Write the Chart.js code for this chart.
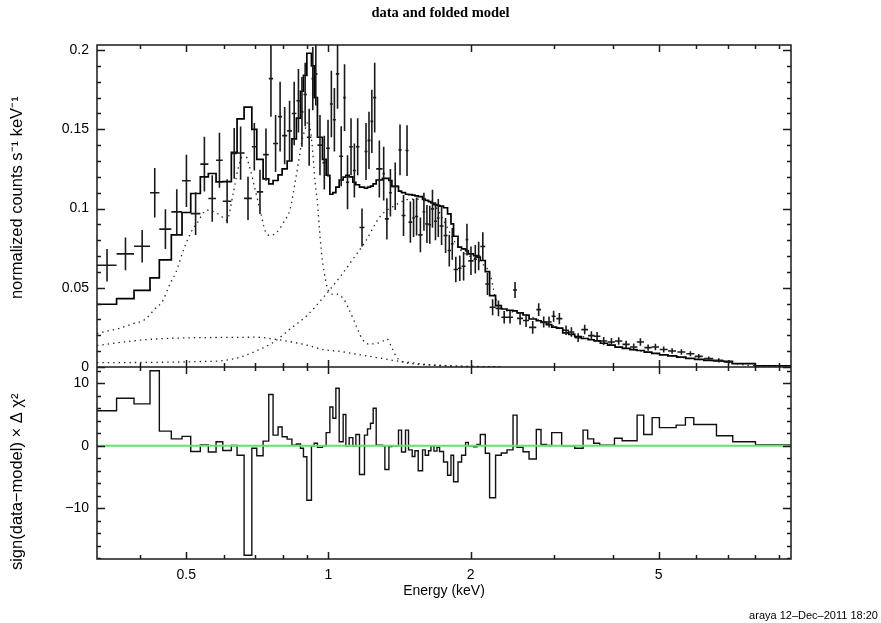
<!DOCTYPE html>
<html>
<head>
<meta charset="utf-8">
<script src="https://cdn.jsdelivr.net/npm/chart.js@4/dist/chart.umd.min.js"></script>
<style>
  html, body { margin: 0; padding: 0; background: #fff; }
</style>
</head>
<body>
<canvas id="spec" width="881" height="623"></canvas>
<script>
// energy range of the plot (keV)
const xMin = 0.3236, xMax = 9.532;

// spectrum: bin centre, half width (keV), rate and 1-sigma error
const dataE = [0.3398, 0.3718, 0.4033, 0.4288, 0.4517, 0.4774, 0.5004, 0.5233, 0.5462, 0.5675,
  0.5878, 0.6102, 0.6317, 0.6517, 0.6756, 0.6967, 0.7162, 0.7374, 0.7555, 0.7728,
  0.79, 0.8078, 0.8273, 0.8461, 0.8639, 0.8788, 0.8926, 0.9102, 0.9265, 0.9402,
  0.9595, 0.98, 0.9979, 1.0143, 1.0293, 1.0453, 1.064, 1.0815, 1.0974, 1.1163,
  1.1346, 1.1531, 1.1777, 1.2008, 1.2185, 1.2355, 1.2528, 1.2816, 1.3089, 1.3296,
  1.3525, 1.3846, 1.4174, 1.4418, 1.4666, 1.4908, 1.5143, 1.5366, 1.5654, 1.5925,
  1.616, 1.6386, 1.6603, 1.6848, 1.7081, 1.7357, 1.7698, 1.8021, 1.8286, 1.8603,
  1.8969, 1.9324, 1.9642, 2.0029, 2.0457, 2.0795, 2.1221, 2.1706, 2.226, 2.2904,
  2.355, 2.4233, 2.4831, 2.5446, 2.6202, 2.7064, 2.7863, 2.8554, 2.9306, 2.997,
  3.082, 3.184, 3.268, 3.377, 3.487, 3.603, 3.704, 3.825, 3.972, 4.116,
  4.267, 4.428, 4.575, 4.75, 4.922, 5.125, 5.339, 5.587, 5.838, 6.08,
  6.384, 6.704, 7.039];
const dataHalfW = [0.0162, 0.0158, 0.0157, 0.0098, 0.0132, 0.0125, 0.0106, 0.0123, 0.0107, 0.0107,
  0.0096, 0.0128, 0.0088, 0.0112, 0.0128, 0.0084, 0.0111, 0.0102, 0.008, 0.0094,
  0.0078, 0.01, 0.0096, 0.0093, 0.0086, 0.0064, 0.0074, 0.0102, 0.0061, 0.0076,
  0.0118, 0.0088, 0.0091, 0.0074, 0.0076, 0.0085, 0.0103, 0.0072, 0.0088, 0.0101,
  0.0083, 0.0102, 0.0144, 0.0088, 0.0089, 0.0081, 0.0092, 0.0196, 0.0077, 0.0131,
  0.0098, 0.0223, 0.0105, 0.014, 0.0108, 0.0134, 0.0101, 0.0123, 0.0166, 0.0105,
  0.0131, 0.0096, 0.0121, 0.0124, 0.0109, 0.0168, 0.0174, 0.015, 0.0116, 0.0201,
  0.0166, 0.0189, 0.0129, 0.0259, 0.017, 0.0168, 0.0258, 0.0228, 0.0326, 0.0319,
  0.0328, 0.0355, 0.0243, 0.0372, 0.0384, 0.0479, 0.0321, 0.037, 0.0382, 0.03,
  0.045, 0.047, 0.048, 0.055, 0.057, 0.059, 0.06, 0.068, 0.07, 0.073,
  0.075, 0.078, 0.081, 0.084, 0.087, 0.1, 0.104, 0.109, 0.114, 0.119,
  0.14, 0.147, 0.155];
const dataRate = [0.0642, 0.0714, 0.0762, 0.110, 0.087, 0.0979, 0.1175, 0.0968, 0.128, 0.1063,
  0.1305, 0.1046, 0.1348, 0.135, 0.1064, 0.139, 0.1105, 0.134, 0.182, 0.141,
  0.158, 0.146, 0.149, 0.16, 0.168, 0.161, 0.172, 0.145, 0.182, 0.185,
  0.14, 0.129, 0.138, 0.166, 0.156, 0.185, 0.133, 0.170, 0.1166, 0.139,
  0.124, 0.139, 0.088, 0.136, 0.143, 0.155, 0.170, 0.125, 0.122, 0.0935,
  0.11, 0.114, 0.137, 0.0956, 0.1366, 0.0914, 0.094, 0.095, 0.0834, 0.098,
  0.0903, 0.0897, 0.0998, 0.092, 0.094, 0.089, 0.083, 0.0735, 0.0777, 0.0615,
  0.0623, 0.0636, 0.0804, 0.067, 0.068, 0.07, 0.076, 0.0524, 0.0377, 0.037,
  0.0314, 0.0314, 0.0486, 0.0307, 0.0293, 0.025, 0.0362, 0.0284, 0.0284, 0.032,
  0.0305, 0.0232, 0.0221, 0.0185, 0.0236, 0.0198, 0.0194, 0.0164, 0.0158, 0.0164,
  0.0143, 0.0126, 0.0158, 0.0122, 0.0126, 0.011, 0.0101, 0.0095, 0.0084, 0.0067,
  0.0053, 0.0042, 0.0032];
const dataErr = [0.0103, 0.0103, 0.0103, 0.0156, 0.0126, 0.0142, 0.0165, 0.0135, 0.0173, 0.0147,
  0.0174, 0.0139, 0.016, 0.0168, 0.0137, 0.015, 0.014, 0.0165, 0.024, 0.018,
  0.022, 0.018, 0.019, 0.02, 0.02, 0.022, 0.02, 0.018, 0.02, 0.02,
  0.019, 0.017, 0.018, 0.021, 0.02, 0.022, 0.019, 0.021, 0.017, 0.018,
  0.017, 0.018, 0.012, 0.018, 0.018, 0.02, 0.022, 0.018, 0.017, 0.013,
  0.015, 0.015, 0.016, 0.013, 0.016, 0.013, 0.012, 0.012, 0.011, 0.012,
  0.012, 0.012, 0.012, 0.012, 0.012, 0.012, 0.011, 0.01, 0.01, 0.008,
  0.008, 0.009, 0.01, 0.009, 0.009, 0.009, 0.009, 0.007, 0.005, 0.005,
  0.004, 0.004, 0.005, 0.004, 0.004, 0.004, 0.004, 0.0035, 0.0035, 0.0035,
  0.0035, 0.003, 0.003, 0.0028, 0.003, 0.0027, 0.0027, 0.0025, 0.0025, 0.0024,
  0.0023, 0.0022, 0.0024, 0.002, 0.002, 0.0019, 0.0018, 0.0017, 0.0016, 0.0015,
  0.0014, 0.0013, 0.0012];

// residual binning (edges, keV) and sign(data-model) x delta chi^2
const binEdges = [0.3236, 0.356, 0.3876, 0.419, 0.4385, 0.4649, 0.4898, 0.511, 0.5355, 0.5568,
  0.5782, 0.5974, 0.6229, 0.6405, 0.6628, 0.6883, 0.7051, 0.7272, 0.7475, 0.7634,
  0.7822, 0.7978, 0.8177, 0.8368, 0.8553, 0.8724, 0.8852, 0.9, 0.9204, 0.9326,
  0.9477, 0.9712, 0.9888, 1.0069, 1.0217, 1.0368, 1.0537, 1.0743, 1.0886, 1.1062,
  1.1263, 1.1429, 1.1633, 1.192, 1.2096, 1.2274, 1.2436, 1.262, 1.3012, 1.3165,
  1.3427, 1.3623, 1.4069, 1.4278, 1.4558, 1.4774, 1.5042, 1.5243, 1.5488, 1.582,
  1.6029, 1.629, 1.6482, 1.6724, 1.6972, 1.7189, 1.7524, 1.7871, 1.817, 1.8402,
  1.8803, 1.9135, 1.9513, 1.977, 2.0287, 2.0627, 2.0963, 2.1478, 2.1934, 2.2585,
  2.3222, 2.3878, 2.4588, 2.5074, 2.5818, 2.6585, 2.7542, 2.8184, 2.8924, 2.9688,
  3.1165, 3.3207, 3.4594, 3.5377, 3.6427, 3.7516, 4.0311, 4.1853, 4.5018, 4.6493,
  4.8437, 5.019, 5.445, 5.6975, 5.9336, 6.6283, 7.1762, 8.0168, 9.532];
const residVals = [5.6, 7.6, 6.7, 12.0, 2.35, 1.1, 1.5, -0.9, 0.15, -1.0,
  0.65, -0.75, 0.05, -1.5, -17.5, -0.4, -1.6, 0.75, 8.2, 1.7,
  3.0, 1.45, 1.07, 0.1, 0.3, -0.4, -1.75, -8.7, 0, 0.4,
  -0.25, 0, 2.1, 6.2, 4.4, 9.2, 0.65, 5.0, 0, 1.3,
  0, 1.8, -4.6, 1.7, 2.7, 3.6, 6.0, 0.1, 0, -3.8,
  -0.1, 0, 2.5, -1.0, 2.5, -0.65, -1.7, -0.8, -4.0, -0.65,
  -1.5, -0.8, 0, -0.85, -0.25, -0.9, -2.6, -4.7, -1.5, -5.75,
  -2.6, -1.5, 0.55, 0, -0.15, 0.2, 1.8, -1.2, -8.3, -1.5,
  -1.15, -0.65, 4.9, -0.25, -0.95, -2.1, 2.6, 0.2, 0.05, 2.1,
  0, -0.4, 2.5, 1.1, 0.4, 0.1, 1.2, 0.8, 4.9, 1.8,
  4.5, 2.9, 3.3, 4.5, 3.4, 1.6, 0.65, 0.15];

// folded model: shares the residual bins up to 2.97 keV, finer bins above
const modelLowRate = [0.0396, 0.0432, 0.0484, 0.0562, 0.0676, 0.0834, 0.0975, 0.1095, 0.12, 0.1221,
  0.1168, 0.117, 0.1354, 0.1566, 0.164, 0.15, 0.131, 0.1187, 0.1156, 0.1177,
  0.1213, 0.125, 0.13, 0.144, 0.157, 0.174, 0.184, 0.198, 0.19, 0.17,
  0.145, 0.131, 0.121, 0.109, 0.11, 0.1135, 0.118, 0.1198, 0.121, 0.12,
  0.1166, 0.115, 0.1135, 0.1128, 0.1135, 0.1141, 0.1156, 0.118, 0.119, 0.119,
  0.1177, 0.114, 0.111, 0.11, 0.109, 0.1088, 0.1084, 0.108, 0.1075, 0.106,
  0.1052, 0.1044, 0.1035, 0.1025, 0.102, 0.1015, 0.1005, 0.0966, 0.0903, 0.0825,
  0.0756, 0.0745, 0.0735, 0.0714, 0.0703, 0.0693, 0.0672, 0.0602, 0.0451, 0.0387,
  0.0366, 0.0358, 0.0354, 0.0341, 0.0328, 0.0303, 0.0292, 0.0282, 0.0268];
const modelHighEdges = [3.04, 3.133, 3.226, 3.322, 3.432, 3.545, 3.653, 3.764, 3.898, 4.044,
  4.19, 4.347, 4.5, 4.662, 4.836, 5.022, 5.23, 5.46, 5.71, 5.96,
  6.23, 6.54, 6.87, 7.16, 8.0, 9.532];
const modelHighRate = [0.0252, 0.0245, 0.0215, 0.0206, 0.0192, 0.018, 0.0172, 0.0165, 0.015, 0.0138,
  0.0126, 0.0118, 0.011, 0.0104, 0.0094, 0.0086, 0.0077, 0.007, 0.0062, 0.0055,
  0.0048, 0.0042, 0.0038, 0.0036, 0.0021, 0.0008];

// model components
const compAE = [0.3236, 0.3619, 0.4089, 0.4621, 0.5263, 0.629, 0.7051, 0.7647, 0.8297, 0.9,
  0.9759, 1.0588, 1.139, 1.2868, 1.3845, 1.4898, 1.6424, 1.9011, 2.3111];
const compA = [0.0135, 0.0155, 0.0172, 0.0181, 0.0185, 0.0187, 0.0188, 0.0177, 0.016, 0.0138,
  0.011, 0.0098, 0.0082, 0.0056, 0.004, 0.0028, 0.0014, 0.0005, 0.0001];
const compBE = [0.3236, 0.4436, 0.5263, 0.6042, 0.6554, 0.7051, 0.7647, 0.8297, 0.9, 0.9759,
  1.0588, 1.139, 1.1961, 1.2868, 1.3845, 1.4898, 1.6424, 1.9011, 2.0963, 2.2007,
  2.2551, 2.3111, 2.5481, 2.8093, 3.0974, 3.415, 3.7637, 4.1495, 4.5749, 5.0443,
  5.561, 6.132, 6.7594, 7.2711, 8.0186, 9.51];
const compB = [0.0027, 0.003, 0.0034, 0.0042, 0.0065, 0.0103, 0.0156, 0.024, 0.0324, 0.044,
  0.057, 0.070, 0.079, 0.095, 0.102, 0.106, 0.104, 0.074, 0.066, 0.058,
  0.044, 0.038, 0.034, 0.0293, 0.0243, 0.0196, 0.016, 0.0125, 0.0101, 0.0081,
  0.0061, 0.0046, 0.0036, 0.0021, 0.0008, 0.0008];
const compCE = [0.3236, 0.3337, 0.3619, 0.3862, 0.4089, 0.4329, 0.4436, 0.4621, 0.4758, 0.493,
  0.5137, 0.5263, 0.5526, 0.5708, 0.5897, 0.6091, 0.629, 0.6436, 0.6628, 0.6826,
  0.6994, 0.7167, 0.7344, 0.7525, 0.7775, 0.8028, 0.8297, 0.85, 0.8638, 0.8781,
  0.8924, 0.907, 0.9222, 0.9371, 0.9477, 0.957, 0.9683, 0.9793, 0.9922, 1.0167,
  1.0419, 1.076, 1.1024, 1.1298, 1.1558, 1.1787, 1.2155, 1.2558, 1.2976, 1.3296,
  1.3624, 1.3961, 1.4306, 1.5266, 1.6561, 1.9011, 2.3111];
const compC = [0.021, 0.0221, 0.0245, 0.0274, 0.030, 0.0379, 0.0406, 0.0526, 0.060, 0.0737,
  0.086, 0.0905, 0.099, 0.098, 0.0958, 0.0926, 0.11, 0.125, 0.135, 0.125,
  0.112, 0.099, 0.086, 0.083, 0.085, 0.091, 0.0998, 0.1166, 0.129, 0.142,
  0.15, 0.155, 0.142, 0.1166, 0.104, 0.087, 0.07, 0.06, 0.051, 0.046,
  0.046, 0.043, 0.037, 0.03, 0.023, 0.0177, 0.0145, 0.0147, 0.016, 0.0177,
  0.012, 0.006, 0.0034, 0.0019, 0.0012, 0.0005, 0.0002];

// axis ticks and labels
const xTicks = [0.4, 0.5, 0.6, 0.7, 0.8, 0.9, 1, 2, 3, 4, 5, 6, 7, 8, 9];
const xMajor = [0.5, 1, 2, 5];
const xLabels = { 0.5: '0.5', 1: '1', 2: '2', 5: '5' };
const rateTicks = [0, 0.05, 0.1, 0.15, 0.2];
const rateLabels = ['0', '0.05', '0.1', '0.15', '0.2'];
const residTicks = [-10, 0, 10];
const residLabels = ['\u221210', '0', '10'];

const fontFamily = "'Liberation Sans', Arial, sans-serif";
const font = { family: fontFamily, size: 14 };
const titleFont = { family: fontFamily, size: 16.5 };
const ink = '#000';

function steps(edges, vals) {
  const pts = vals.map((v, i) => ({ x: edges[i], y: v }));
  pts.push({ x: edges[edges.length - 1], y: vals[vals.length - 1] });
  return pts;
}

function crosses() {
  const pts = [];
  dataE.forEach((e, i) => {
    const r = dataRate[i], w = dataHalfW[i], s = dataErr[i];
    pts.push({ x: e - w, y: r }, { x: e + w, y: r }, { x: e, y: null },
             { x: e, y: r - s }, { x: e, y: r + s }, { x: e, y: null });
  });
  return pts;
}

const curve = (es, vs) => es.map((e, i) => ({ x: e, y: vs[i] }));

const modelEdges = binEdges.slice(0, modelLowRate.length + 1).concat(modelHighEdges);
const modelRate = modelLowRate.concat(modelHighRate);

// frame with inward ticks on all four sides of both panels
const framePlugin = {
  id: 'frame',
  afterDatasetsDraw(chart) {
    const { ctx, scales } = chart;
    const x = scales.x;
    const L = x.left, R = x.right;
    const seg = (x1, y1, x2, y2) => { ctx.moveTo(x1, y1); ctx.lineTo(x2, y2); };
    ctx.save();
    ctx.strokeStyle = '#1a1a1a';
    ctx.lineWidth = 1.5;
    ctx.beginPath();
    [['y', 0.01, 0.05], ['yr', 2, 10]].forEach(([id, minor, major]) => {
      const s = scales[id];
      ctx.rect(L, s.top, R - L, s.bottom - s.top);
      xTicks.forEach(v => {
        const px = Math.round(x.getPixelForValue(v)) + 0.5;
        const len = xMajor.includes(v) ? 7 : 4;
        seg(px, s.top, px, s.top + len);
        seg(px, s.bottom, px, s.bottom - len);
      });
      const start = Math.ceil(s.min / minor - 1e-6);
      const stop = Math.floor(s.max / minor + 1e-6);
      for (let k = start; k <= stop; k++) {
        const v = k * minor;
        const py = Math.round(s.getPixelForValue(v)) + 0.5;
        const len = Math.abs(v / major - Math.round(v / major)) < 1e-6 ? 8 : 4;
        seg(L, py, L + len, py);
        seg(R, py, R - len, py);
      }
    });
    ctx.stroke();
    ctx.restore();
  }
};

const base = { pointRadius: 0, pointHoverRadius: 0, fill: false, xAxisID: 'x' };

new Chart(document.getElementById('spec'), {
  type: 'line',
  data: {
    datasets: [
      { ...base, label: 'zero', yAxisID: 'yr', order: -1,
        data: [{ x: xMin, y: 0 }, { x: xMax, y: 0 }],
        borderColor: '#66e066', borderWidth: 2 },
      { ...base, label: 'residuals', yAxisID: 'yr', stepped: true,
        data: steps(binEdges, residVals), borderColor: '#111', borderWidth: 1.4 },
      { ...base, label: 'data', yAxisID: 'y', spanGaps: false,
        data: crosses(), borderColor: '#1a1a1a', borderWidth: 1.6 },
      { ...base, label: 'model', yAxisID: 'y', stepped: true,
        data: steps(modelEdges, modelRate), borderColor: '#000', borderWidth: 1.7 },
      { ...base, label: 'comp A', yAxisID: 'y', cubicInterpolationMode: 'monotone',
        data: curve(compAE, compA), borderColor: '#222', borderWidth: 1.3, borderDash: [1.4, 4] },
      { ...base, label: 'comp B', yAxisID: 'y', cubicInterpolationMode: 'monotone',
        data: curve(compBE, compB), borderColor: '#222', borderWidth: 1.3, borderDash: [1.4, 4] },
      { ...base, label: 'comp C', yAxisID: 'y', cubicInterpolationMode: 'monotone',
        data: curve(compCE, compC), borderColor: '#222', borderWidth: 1.3, borderDash: [1.4, 4] }
    ]
  },
  options: {
    responsive: false,
    animation: false,
    devicePixelRatio: 1,
    events: [],
    layout: { padding: 0 },
    plugins: {
      legend: { display: false },
      tooltip: { enabled: false },
      title: {
        display: true,
        text: 'data and folded model',
        color: ink,
        font: { family: "'Liberation Serif', 'Times New Roman', serif", size: 14.5, weight: 'bold' },
        padding: { top: 5, bottom: 22.6 }
      },
      subtitle: {
        display: true,
        position: 'bottom',
        align: 'end',
        text: 'araya 12\u2013Dec\u20132011 18:20 ',
        color: ink,
        font: { family: fontFamily, size: 11 },
        padding: { top: 0, bottom: 0.4 }
      }
    },
    scales: {
      x: {
        type: 'logarithmic',
        position: 'bottom',
        bounds: 'data',
        min: xMin,
        max: xMax,
        afterBuildTicks: s => {
          s.min = xMin;
          s.max = xMax;
          s.ticks = xTicks.map(v => ({ value: v }));
        },
        afterFit: s => { s.height = 50.4; },
        ticks: { autoSkip: false, maxRotation: 0, padding: 8, color: ink, font,
                 callback: v => xLabels[v] || '' },
        grid: { display: false, drawTicks: false },
        border: { display: false },
        title: { display: true, text: 'Energy (keV)', color: ink, font,
                 padding: { top: 0, bottom: 10 } }
      },
      y: {
        type: 'linear',
        position: 'left',
        stack: 'panels',
        stackWeight: 322,
        weight: 2,
        min: 0,
        max: 0.2032,
        afterBuildTicks: s => { s.ticks = rateTicks.map(v => ({ value: v })); },
        afterFit: s => { s.width = 97; },
        ticks: { padding: 8, color: ink, font,
                 callback: (v, i) => rateLabels[i] },
        grid: { display: false, drawTicks: false },
        border: { display: false },
        title: { display: true,
                 text: '\u2002\u2002normalized counts s\u207B\u00B9 keV\u207B\u00B9',
                 color: ink, font: titleFont, padding: { top: 8, bottom: 0 } }
      },
      yr: {
        type: 'linear',
        position: 'left',
        stack: 'panels',
        stackWeight: 192,
        weight: 1,
        min: -18.1,
        max: 12.6,
        afterBuildTicks: s => { s.ticks = residTicks.map(v => ({ value: v })); },
        afterFit: s => { s.width = 97; },
        ticks: { padding: 8, color: ink, font,
                 callback: (v, i) => residLabels[i] },
        grid: { display: false, drawTicks: false },
        border: { display: false },
        title: { display: true,
                 text: 'sign(data\u2212model) \u00D7 \u0394 \u03C7\u00B2\u2002\u2002\u2002\u2002 ',
                 color: ink, font: titleFont, padding: { top: 8, bottom: 0 } }
      },
      pad: {
        type: 'linear',
        position: 'right',
        afterFit: s => { s.width = 90; },
        ticks: { display: false },
        grid: { display: false, drawTicks: false },
        border: { display: false }
      }
    }
  },
  plugins: [framePlugin]
});
</script>
</body>
</html>
